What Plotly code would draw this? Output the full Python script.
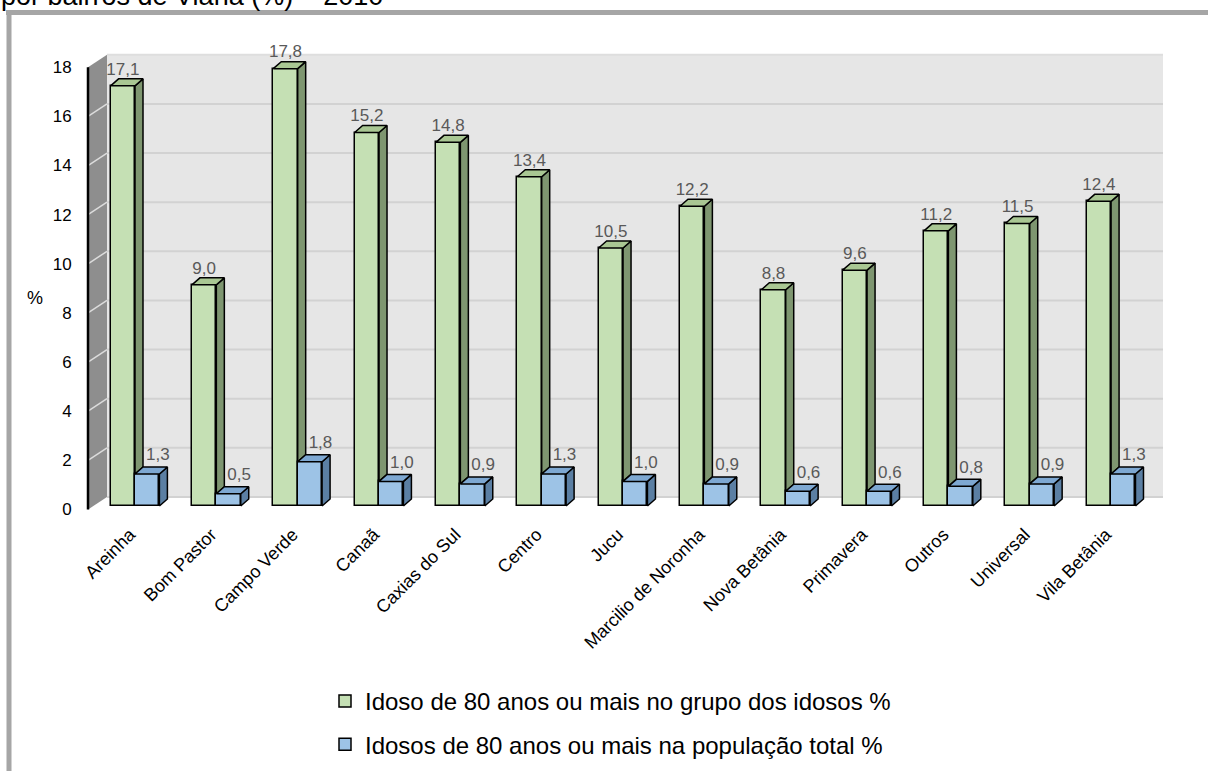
import plotly.graph_objects as go

# Data: share of people aged 80+ by neighbourhood (Viana, 2010)
bairros = ["Areinha", "Bom Pastor", "Campo Verde", "Canaã", "Caxias do Sul", "Centro",
           "Jucu", "Marcilio de Noronha", "Nova Betânia", "Primavera", "Outros",
           "Universal", "Vila Betânia"]
grupo_idosos = [17.1, 9.0, 17.8, 15.2, 14.8, 13.4, 10.5, 12.2, 8.8, 9.6, 11.2, 11.5, 12.4]
pop_total = [1.3, 0.5, 1.8, 1.0, 0.9, 1.3, 1.0, 0.9, 0.6, 0.6, 0.8, 0.9, 1.3]
y_ticks = [0, 2, 4, 6, 8, 10, 12, 14, 16, 18]

nome_verde = "Idoso de 80 anos ou mais no grupo dos idosos %"
nome_azul = "Idosos de 80 anos ou mais na população total %"

# ---- page geometry (pixels) ----
W, H = 1208, 771
L, R, T, B = 80, 1170, 40, 512
X0PX, XPX = 135.0, 81.34          # pixel of category 0 centre, pixels per category
Y0PX, YPX = 506.0, 24.57          # pixel of value 0 for bars, pixels per unit
FRONT_Y0PX = 509.5                # value 0 on the front plane (tick labels)

x_range = [(L - X0PX) / XPX, (R - X0PX) / XPX]
y_range = [(Y0PX - B) / YPX, (Y0PX - T) / YPX]
y2_range = [(FRONT_Y0PX - B) / YPX, (FRONT_Y0PX - T) / YPX]


def px_x(p):
    return (p - X0PX) / XPX


def paper_x(p):
    return (p - L) / (R - L)


def paper_y(p):
    return (B - p) / (B - T)


BAR_W = 0.30
DX = 8 / XPX        # depth of each bar (x)
DY = 7 / YPX        # depth of each bar (y)

# walls
XF = px_x(88)       # front-left edge
XB = px_x(107)      # back-left edge
XBR = px_x(1163)    # back-right edge
FRONT_OFF = (FRONT_Y0PX - Y0PX) / YPX   # front plane below bar base
BACK_OFF = (Y0PX - 497) / YPX           # back plane above bar base

GREEN, GREEN_SIDE, GREEN_TOP = "#c5e0b4", "#7e9670", "#a9c793"
BLUE, BLUE_SIDE, BLUE_TOP = "#9dc3e6", "#5b7fa3", "#7ea8d2"
EDGE = "#000000"

shapes = []
# back wall
shapes.append(dict(type="rect", xref="x", yref="y", layer="below",
                   x0=XB, x1=XBR, y0=BACK_OFF, y1=y_ticks[-1] + BACK_OFF,
                   fillcolor="#e6e6e6", line=dict(width=0)))
for v in y_ticks:
    shapes.append(dict(type="line", xref="x", yref="y", layer="below",
                       x0=XB, x1=XBR, y0=v + BACK_OFF, y1=v + BACK_OFF,
                       line=dict(color="#d2d2d2" if v < y_ticks[-1] else "#dedede", width=2)))
# side wall
side_path = (f"M{XF},{-FRONT_OFF} L{XB},{BACK_OFF} L{XB},{y_ticks[-1] + BACK_OFF} "
             f"L{XF},{y_ticks[-1] - FRONT_OFF} Z")
shapes.append(dict(type="path", xref="x", yref="y", layer="below", path=side_path,
                   fillcolor="#8e8e8e", line=dict(width=0)))
for v in y_ticks[1:-1]:
    shapes.append(dict(type="line", xref="x", yref="y", layer="below",
                       x0=XF, x1=XB, y0=v - FRONT_OFF, y1=v + BACK_OFF,
                       line=dict(color="#dcdcdc", width=1.5)))

# outer frame
shapes.append(dict(type="line", xref="paper", yref="paper",
                   x0=paper_x(6), x1=paper_x(W + 5), y0=paper_y(12.5), y1=paper_y(12.5),
                   line=dict(color="#a6a6a6", width=5)))
shapes.append(dict(type="line", xref="paper", yref="paper",
                   x0=paper_x(9), x1=paper_x(9), y0=paper_y(10), y1=paper_y(H + 5),
                   line=dict(color="#a6a6a6", width=5)))

fig = go.Figure()
xs = list(range(len(bairros)))

# front faces
fig.add_trace(go.Bar(x=xs, y=grupo_idosos, width=BAR_W, offset=-BAR_W, name=nome_verde,
                     marker=dict(color=GREEN, line=dict(color=EDGE, width=1.5)),
                     legendgroup="g1", hoverinfo="skip"))
fig.add_trace(go.Bar(x=xs, y=pop_total, width=BAR_W, offset=0, name=nome_azul,
                     marker=dict(color=BLUE, line=dict(color=EDGE, width=1.5)),
                     legendgroup="g2", hoverinfo="skip"))


def polys(points_list):
    px, py = [], []
    for pts in points_list:
        for (a, b) in pts:
            px.append(a)
            py.append(b)
        px.append(pts[0][0])
        py.append(pts[0][1])
        px.append(None)
        py.append(None)
    return px, py


g_side, g_top, b_side, b_top = [], [], [], []
for i, (g, b) in enumerate(zip(grupo_idosos, pop_total)):
    c = i
    g_side.append([(c, b), (c + DX, b + DY), (c + DX, g + DY), (c, g)])
    g_top.append([(c - BAR_W, g), (c, g), (c + DX, g + DY), (c - BAR_W + DX, g + DY)])
    b_side.append([(c + BAR_W, 0), (c + BAR_W + DX, DY), (c + BAR_W + DX, b + DY), (c + BAR_W, b)])
    b_top.append([(c, b), (c + BAR_W, b), (c + BAR_W + DX, b + DY), (c + DX, b + DY)])

for faces, col in [(g_side, GREEN_SIDE), (g_top, GREEN_TOP), (b_side, BLUE_SIDE), (b_top, BLUE_TOP)]:
    fx, fy = polys(faces)
    fig.add_trace(go.Scatter(x=fx, y=fy, mode="lines", fill="toself", fillcolor=col,
                             line=dict(color=EDGE, width=1.5), showlegend=False,
                             hoverinfo="skip"))


def fmt(v):
    return f"{v:.1f}".replace(".", ",")


FONT = "Liberation Sans, Arial, sans-serif"
LABEL_FONT = dict(family=FONT, size=17, color="#595959")
fig.add_trace(go.Scatter(x=[c - BAR_W / 2 for c in xs], y=[g + DY for g in grupo_idosos],
                         mode="text", text=[fmt(g) for g in grupo_idosos],
                         textposition="top center", textfont=LABEL_FONT,
                         showlegend=False, hoverinfo="skip", cliponaxis=False))
fig.add_trace(go.Scatter(x=[c + BAR_W / 2 + 0.13 for c in xs], y=[b + DY + 0.1 for b in pop_total],
                         mode="text", text=[fmt(b) for b in pop_total],
                         textposition="top center", textfont=LABEL_FONT,
                         showlegend=False, hoverinfo="skip", cliponaxis=False))

# front edge of the value axis (front plane scale)
fig.add_trace(go.Scatter(x=[XF, XF], y=[y_ticks[0], y_ticks[-1]], yaxis="y2", mode="lines",
                         line=dict(color="#000000", width=2.5), showlegend=False,
                         hoverinfo="skip", cliponaxis=False))

fig.update_layout(
    width=W, height=H,
    margin=dict(l=L, r=W - R, t=T, b=H - B, autoexpand=False),
    paper_bgcolor="white", plot_bgcolor="rgba(0,0,0,0)",
    barmode="overlay", bargap=0,
    font=dict(family=FONT, color="#000000"),
    showlegend=True,
    legend=dict(x=paper_x(325), y=paper_y(679), xanchor="left", yanchor="top",
                orientation="v", font=dict(size=24, color="#000000"),
                tracegroupgap=9, bgcolor="rgba(0,0,0,0)", itemwidth=30),
    xaxis=dict(range=x_range, tickmode="array", tickvals=xs, ticktext=bairros,
               tickangle=-45, tickfont=dict(size=18, color="#000000"),
               showgrid=False, zeroline=False, showline=False,
               ticks="outside", ticklen=4, tickcolor="rgba(0,0,0,0)",
               ticklabelshift=-5),
    yaxis=dict(range=y_range, showticklabels=False, showgrid=False, zeroline=False,
               showline=False, ticks=""),
    yaxis2=dict(range=y2_range, overlaying="y", side="left", anchor="x",
                tickmode="array", tickvals=y_ticks, ticktext=[str(v) for v in y_ticks],
                tickfont=dict(size=17, color="#000000"),
                showgrid=False, zeroline=False, showline=False,
                ticks="outside", ticklen=4, tickcolor="rgba(0,0,0,0)"),
    shapes=shapes,
    annotations=[
        dict(text="%", xref="paper", yref="paper", x=paper_x(35), y=paper_y(298),
             showarrow=False, font=dict(size=18, color="#000000"),
             xanchor="center", yanchor="middle"),
        dict(text="por bairros de Viana (%) – 2010", xref="paper", yref="paper",
             x=paper_x(0), y=paper_y(12), showarrow=False, xanchor="left", yanchor="bottom",
             font=dict(size=27, color="#000000"), borderpad=0),
    ],
)

fig.write_html("out.html")
